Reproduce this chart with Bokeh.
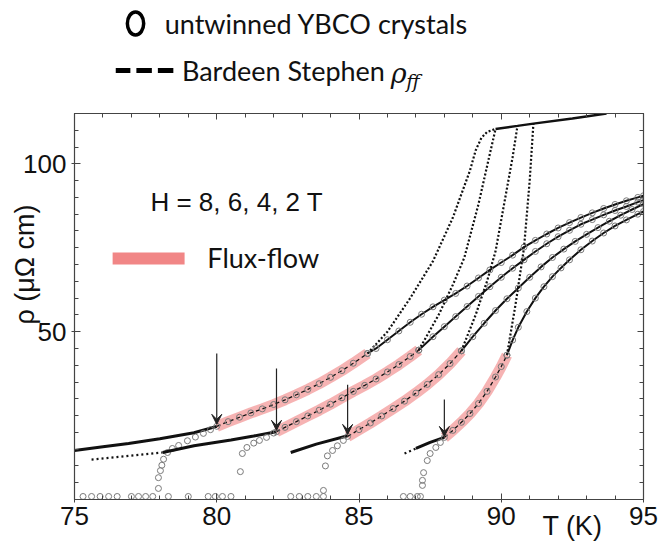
from bokeh.plotting import figure
from bokeh.layouts import column
from bokeh.models import (Range1d, LinearAxis, Label, Arrow, VeeHead, FixedTicker,
                          CustomLabelingPolicy)
from bokeh.embed import file_html
from bokeh.resources import INLINE

# ---------------- data: resistivity rho (uOhm cm) vs temperature T (K) ----------------
# 8 T
t_zero_8 = [75.3, 75.6, 75.9, 76.2, 76.5, 77.0, 77.25, 77.5, 77.75]
t_tr_8 = [77.95, 77.95, 78.02, 78.07, 78.13, 78.27, 78.44, 78.66, 78.97, 79.25, 79.53, 79.78]
rho_tr_8 = [3.3, 6.5, 8.6, 10.2, 12.0, 14.0, 15.2, 16.1, 17.5, 18.6, 19.7, 20.8]
t_low_8 = [75.0, 76.0, 76.9, 78.0, 79.2, 80.0]
rho_low_8 = [14.6, 15.7, 16.7, 18.1, 19.9, 21.8]
t_ff_8 = [80.0, 80.4, 80.8, 81.2, 81.6, 82.0, 82.4, 82.8, 83.2, 83.6, 84.0, 84.4, 84.8, 85.3]
rho_ff_8 = [21.8, 23.2, 24.5, 25.8, 27.0, 28.3, 29.7, 31.2, 32.8, 34.5, 36.4, 38.4, 40.6, 43.5]
t_bs_8 = [85.3, 86.0, 86.8, 87.6, 88.3, 88.9, 89.1, 89.3, 89.5, 89.8]
rho_bs_8 = [43.5, 50.0, 60.0, 71.0, 84.0, 98.0, 104.0, 107.7, 109.5, 110.4]
t_n_8 = [85.3, 85.6, 86.0, 86.4, 86.8, 87.2, 87.6, 88.0, 88.4, 88.8, 89.2, 89.6, 90.0,
         90.4, 90.8, 91.2, 91.6, 92.0, 92.4, 92.8, 93.2, 93.6, 94.0, 94.4, 94.8, 95.0]
rho_n_8 = [43.5, 45.0, 47.6, 50.2, 52.8, 55.2, 57.4, 59.4, 61.4, 63.6, 66.0, 68.4, 70.6,
           72.8, 75.2, 77.2, 79.1, 80.9, 82.5, 84.0, 85.4, 86.7, 87.9, 89.0, 90.0, 90.5]

# 6 T
t_zero_6 = [78.3, 79.0, 79.7, 79.95, 80.2, 80.5]
t_tr_6 = [80.83, 80.9, 81.06, 81.3, 81.5, 81.75, 82.0]
rho_tr_6 = [8.3, 13.7, 15.5, 16.8, 17.6, 18.5, 19.8]
t_pre_6 = [75.6, 78.1]
rho_pre_6 = [11.9, 14.0]
t_low_6 = [78.1, 79.2, 80.5, 81.3, 82.1]
rho_low_6 = [14.0, 16.0, 17.7, 18.9, 20.2]
t_ff_6 = [82.1, 82.4, 82.8, 83.2, 83.6, 84.0, 84.4, 84.8, 85.2, 85.6, 86.0, 86.4, 86.8, 87.1]
rho_ff_6 = [20.2, 21.5, 23.2, 24.9, 26.6, 28.4, 30.3, 32.2, 34.0, 35.9, 38.0, 40.2, 42.6, 44.5]
t_bs_6 = [87.1, 87.8, 88.3, 88.7, 89.2, 89.6, 89.8]
rho_bs_6 = [44.5, 55.0, 64.0, 72.0, 88.0, 103.0, 110.4]
t_n_6 = [87.1, 87.6, 88.0, 88.4, 88.8, 89.2, 89.6, 90.0, 90.4, 90.8, 91.2, 91.6, 92.0,
         92.4, 92.8, 93.2, 93.6, 94.0, 94.4, 94.8, 95.0]
rho_n_6 = [44.5, 48.5, 51.5, 54.5, 57.5, 60.5, 63.4, 66.2, 68.9, 71.4, 73.9, 76.2, 78.3,
           80.2, 82.0, 83.4, 84.8, 86.1, 87.3, 88.6, 89.2]

# 4 T
t_zero_4 = [82.6, 82.9, 83.2, 83.5, 83.75]
t_tr_4 = [83.75, 83.82, 83.89, 84.07, 84.24, 84.45]
rho_tr_4 = [2.7, 10.0, 13.0, 14.6, 16.0, 17.6]
t_low_4 = [82.6, 83.5, 84.6]
rho_low_4 = [14.0, 16.5, 19.0]
t_ff_4 = [84.6, 85.0, 85.4, 85.8, 86.2, 86.6, 87.0, 87.4, 87.8, 88.2, 88.6]
rho_ff_4 = [18.8, 20.8, 22.8, 24.9, 27.1, 29.3, 31.7, 34.3, 37.2, 40.5, 44.3]
t_bs_4 = [88.6, 89.1, 89.5, 89.8, 90.1, 90.4, 90.57]
rho_bs_4 = [44.3, 55.0, 65.0, 74.0, 88.0, 102.0, 111.3]
t_n_4 = [88.6, 89.0, 89.4, 89.8, 90.2, 90.6, 91.0, 91.4, 91.8, 92.2, 92.6, 93.0,
         93.4, 93.8, 94.2, 94.6, 95.0]
rho_n_4 = [44.3, 48.5, 52.5, 56.3, 59.8, 63.0, 66.2, 69.3, 72.1, 74.6, 76.9, 79.0,
           81.0, 82.9, 84.7, 86.4, 88.0]

# 2 T
t_zero_2 = [86.56, 86.8, 87.05, 87.16]
t_tr_2 = [87.23, 87.23, 87.27, 87.4, 87.5, 87.7, 87.86]
rho_tr_2 = [4.2, 5.7, 8.0, 11.6, 13.7, 15.5, 17.0]
t_pre_2 = [86.6, 87.0]
rho_pre_2 = [13.7, 15.2]
t_low_2 = [87.0, 87.5, 88.0]
rho_low_2 = [15.2, 17.0, 18.5]
t_ff_2 = [88.0, 88.3, 88.6, 88.9, 89.2, 89.5, 89.8, 90.0, 90.2]
rho_ff_2 = [18.5, 20.6, 23.0, 25.6, 28.6, 32.2, 36.5, 39.6, 43.0]
t_bs_2 = [90.2, 90.5, 90.8, 91.0, 91.13]
rho_bs_2 = [43.0, 58.0, 75.0, 95.0, 112.0]
t_n_2 = [90.2, 90.4, 90.6, 90.9, 91.2, 91.5, 91.8, 92.1, 92.4, 92.8, 93.2, 93.6,
         94.0, 94.4, 94.8, 95.0]
rho_n_2 = [43.0, 47.5, 51.3, 56.0, 60.0, 63.4, 66.4, 69.0, 71.4, 74.4, 77.0, 79.4,
           81.5, 83.3, 85.0, 85.8]

# resistivity measured as zero below the transition
rho_zero = 0.9

# normal-state saturation of the Bardeen-Stephen curves
t_rn = [89.8, 90.57, 91.13, 92.5, 93.7]
rho_rn = [110.4, 111.3, 112.0, 113.5, 115.0]

# onset of flux flow (arrows): temperature, arrow tip, arrow tail
arrow_t = [80.0, 82.1, 84.6, 88.0]
arrow_tip = [22.4, 20.6, 19.4, 18.8]
arrow_tail = [43.5, 39.0, 34.2, 29.8]

x_ticks = [75, 80, 85, 90, 95]
y_ticks = [50, 100]

INK = "#111111"
PINK = "#f08080"
CIRC = "#7a7a7a"
AXC = "#444444"
AX_FONT = "Liberation Sans"

# ---------------- legend strip ----------------
top = figure(width=662, height=100, x_range=Range1d(0, 662), y_range=Range1d(100, 0),
             output_backend="svg", toolbar_location=None, min_border=0)
top.axis.visible = False
top.grid.visible = False
top.outline_line_color = None
top.ellipse(x=[71], y=[23], width=[19], height=[23], fill_color=None,
            line_color="black", line_width=3.5)
top.add_layout(Label(x=105, y=23, text="untwinned YBCO crystals", text_font="Lato",
                     text_font_size="27px", text_baseline="middle", text_color=INK))
top.segment(x0=[48, 72, 97], x1=[65, 90, 115], y0=[70, 70, 70], y1=[70, 70, 70],
            line_width=5, line_color="black")
top.add_layout(Label(x=125, y=70, text="Bardeen Stephen", text_font="Lato",
                     text_font_size="27px", text_baseline="middle", text_color=INK))
top.add_layout(Label(x=368, y=73, text="ρ", text_font="DejaVu Serif", text_font_style="italic",
                     text_font_size="27px", text_baseline="middle", text_color=INK))
top.add_layout(Label(x=386, y=80, text="ff", text_font="DejaVu Serif", text_font_style="italic",
                     text_font_size="19px", text_baseline="middle", text_color=INK))

# ---------------- main plot ----------------
p = figure(width=662, height=451, x_range=Range1d(75, 95), y_range=Range1d(0, 115),
           output_backend="svg", toolbar_location=None,
           min_border_left=74, min_border_right=19, min_border_top=13, min_border_bottom=52)
p.grid.visible = False
p.outline_line_color = AXC
p.outline_line_width = 1.2

xt = FixedTicker(ticks=x_ticks, minor_ticks=list(range(75, 96)))
yt = FixedTicker(ticks=y_ticks, minor_ticks=list(range(0, 116, 5)))
p.xaxis.ticker = xt
p.yaxis.ticker = yt
for ax in (p.xaxis[0], p.yaxis[0]):
    ax.axis_line_color = AXC
    ax.major_tick_line_color = AXC
    ax.minor_tick_line_color = AXC
    ax.major_tick_in = 6
    ax.major_tick_out = 3
    ax.minor_tick_in = 4
    ax.minor_tick_out = 0
    ax.major_label_text_font = AX_FONT
    ax.major_label_text_font_size = "26px"
    ax.major_label_text_color = INK
p.xaxis.major_label_standoff = 4
p.yaxis.major_label_standoff = 5

# mirrored tick marks on the top and right edges, without labels
no_labels = CustomLabelingPolicy(code="for (const i of indices) { indices.unset(i) } return indices")
for loc, tk in (("above", xt), ("right", yt)):
    ax = LinearAxis(ticker=tk, major_label_text_font_size="1px", major_label_standoff=0,
                    major_label_policy=no_labels,
                    major_tick_in=6, major_tick_out=0, minor_tick_in=4, minor_tick_out=0,
                    axis_line_color=AXC, major_tick_line_color=AXC, minor_tick_line_color=AXC)
    p.add_layout(ax, loc)

# axis titles, carried by label-only axes so they sit beside the tick labels
y_title_axis = LinearAxis(ticker=FixedTicker(ticks=[70], minor_ticks=[]),
                          major_label_overrides={70: "ρ (μΩ cm)"},
                          major_label_orientation="vertical",
                          major_label_text_font=AX_FONT, major_label_text_font_size="27px",
                          major_label_text_color=INK, major_label_standoff=-20,
                          axis_line_color=None, major_tick_line_color=None,
                          minor_tick_line_color=None, major_tick_out=0, major_tick_in=0)
p.add_layout(y_title_axis, "left")
x_title_axis = LinearAxis(ticker=FixedTicker(ticks=[92.5], minor_ticks=[]),
                          major_label_overrides={92.5: "T (K)"},
                          major_label_text_font=AX_FONT, major_label_text_font_size="27px",
                          major_label_text_color=INK, major_label_standoff=-17,
                          axis_line_color=None, major_tick_line_color=None,
                          minor_tick_line_color=None, major_tick_out=0, major_tick_in=0)
p.add_layout(x_title_axis, "below")

fields = [
    (t_zero_8, t_tr_8, rho_tr_8, None, None, t_low_8, rho_low_8, t_ff_8, rho_ff_8, t_bs_8, rho_bs_8, t_n_8, rho_n_8),
    (t_zero_6, t_tr_6, rho_tr_6, t_pre_6, rho_pre_6, t_low_6, rho_low_6, t_ff_6, rho_ff_6, t_bs_6, rho_bs_6, t_n_6, rho_n_6),
    (t_zero_4, t_tr_4, rho_tr_4, None, None, t_low_4, rho_low_4, t_ff_4, rho_ff_4, t_bs_4, rho_bs_4, t_n_4, rho_n_4),
    (t_zero_2, t_tr_2, rho_tr_2, t_pre_2, rho_pre_2, t_low_2, rho_low_2, t_ff_2, rho_ff_2, t_bs_2, rho_bs_2, t_n_2, rho_n_2),
]

# flux-flow bands first, underneath everything
for f in fields:
    p.line(f[7], f[8], line_width=11, line_color=PINK, line_alpha=0.6, line_cap="butt")

for (tz, ttr, rtr, tpre, rpre, tlow, rlow, tff, rff, tbs, rbs, tn, rn) in fields:
    if tpre is not None:
        p.line(tpre, rpre, line_width=2.2, line_color=INK, line_dash="2 3")
    p.line(tlow, rlow, line_width=3, line_color=INK)
    p.line(tff, rff, line_width=1.3, line_color=INK, line_dash="4 3")
    p.line(tbs, rbs, line_width=2.2, line_color=INK, line_dash="2 2")
    p.line(tn, rn, line_width=2, line_color=INK)
    p.scatter(tz, [rho_zero] * len(tz), marker="circle", size=6, fill_color=None,
              line_color=CIRC, line_width=1)
    p.scatter(ttr + tff + tn, rtr + rff + rn, marker="circle", size=6, fill_color=None,
              line_color=CIRC, line_width=1)

p.line(t_rn, rho_rn, line_width=2.4, line_color=INK)

for t, tip, tail in zip(arrow_t, arrow_tip, arrow_tail):
    p.add_layout(Arrow(x_start=t, y_start=tail, x_end=t, y_end=tip, line_width=1.2,
                       line_color="#222222",
                       end=VeeHead(size=10, fill_color="#222222", line_color="#222222",
                                   line_width=1)))

# in-plot annotations
p.add_layout(Label(x=77.67, y=88.5, text="H = 8, 6, 4, 2 T", text_font=AX_FONT,
                   text_font_size="26px", text_baseline="middle", text_color=INK))
p.quad(left=[76.34], right=[78.87], bottom=[70.0], top=[73.6], fill_color=PINK,
       line_color=None, fill_alpha=0.95)
p.add_layout(Label(x=79.67, y=72.1, text="Flux-flow", text_font="Lato",
                   text_font_size="27px", text_baseline="middle", text_color=INK))

layout = column(top, p, spacing=0)
open("out.html", "w").write(file_html(layout, INLINE))
